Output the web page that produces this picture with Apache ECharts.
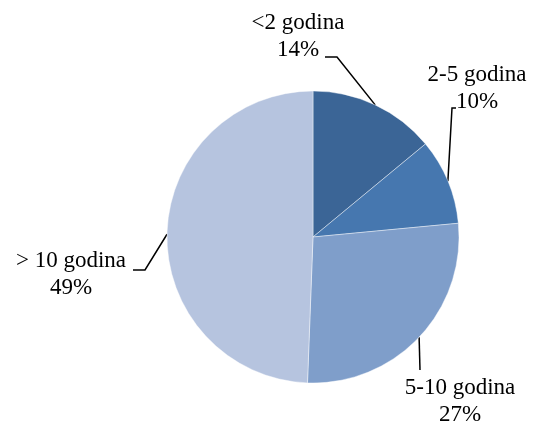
<!DOCTYPE html>
<html>
<head>
<meta charset="utf-8">
<script src="https://cdn.jsdelivr.net/npm/echarts@6/dist/echarts.min.js"></script>
<style>
html,body{margin:0;padding:0;background:#fff;}
#c{width:533px;height:426px;}
</style>
</head>
<body>
<div id="c"></div>
<script>
var categories = ['<2 godina', '2-5 godina', '5-10 godina', '> 10 godina'];
var values = [14, 9.5, 27.1, 49.4];
var colors = ['#3B6596', '#4677AF', '#7F9ECA', '#B6C4DF'];

var CX = 313, CY = 237, R = 146;
// label layout (label center + bend points), layout only
var labelPos = [
  {x: 298, y: 36, bends: [[337, 57], [325, 57]]},
  {x: 477, y: 88, bends: [[452, 108], [456, 108]]},
  {x: 460, y: 401, bends: [[420, 370]]},
  {x: 71, y: 274, bends: [[145, 270], [133, 270]]}
];

var total = values.reduce(function(a, b){return a + b;}, 0);
function edgePoint(i) {
  var before = 0;
  for (var k = 0; k < i; k++) before += values[k];
  var mid = (before + values[i] / 2) / total * 2 * Math.PI;
  return [CX + R * Math.sin(mid), CY - R * Math.cos(mid)];
}

var FONT = 'Liberation Serif';
var chart = echarts.init(document.getElementById('c'), null, {renderer: 'canvas'});
chart.setOption({
  animation: false,
  backgroundColor: '#fff',
  textStyle: {fontFamily: FONT},
  series: [{
    type: 'pie',
    center: [CX, CY],
    radius: R,
    startAngle: 90,
    clockwise: true,
    avoidLabelOverlap: false,
    color: colors,
    itemStyle: {borderColor: 'rgba(255,255,255,0.6)', borderWidth: 0.7},
    label: {
      show: true,
      position: 'outside',
      formatter: function(p){
        return '{t|' + p.name + '}\n{t|' + Math.round(p.value / total * 100) + '%}';
      },
      fontFamily: FONT,
      fontSize: 23,
      lineHeight: 27,
      color: '#000',
      align: 'center',
      rich: {
        t: {fontFamily: FONT, fontSize: 23, lineHeight: 27, color: '#000', align: 'center'}
      }
    },
    labelLine: {show: true, lineStyle: {color: '#000', width: 1.5}},
    labelLayout: function(params) {
      var i = params.dataIndex;
      var lp = labelPos[i];
      var pts = [edgePoint(i)].concat(lp.bends);
      if (pts.length === 2) pts.push(pts[1]);
      return {
        x: lp.x, y: lp.y,
        align: 'center', verticalAlign: 'middle',
        labelLinePoints: pts
      };
    },
    emphasis: {disabled: true},
    data: categories.map(function(c, i){ return {name: c, value: values[i]}; })
  }]
});
</script>
</body>
</html>
